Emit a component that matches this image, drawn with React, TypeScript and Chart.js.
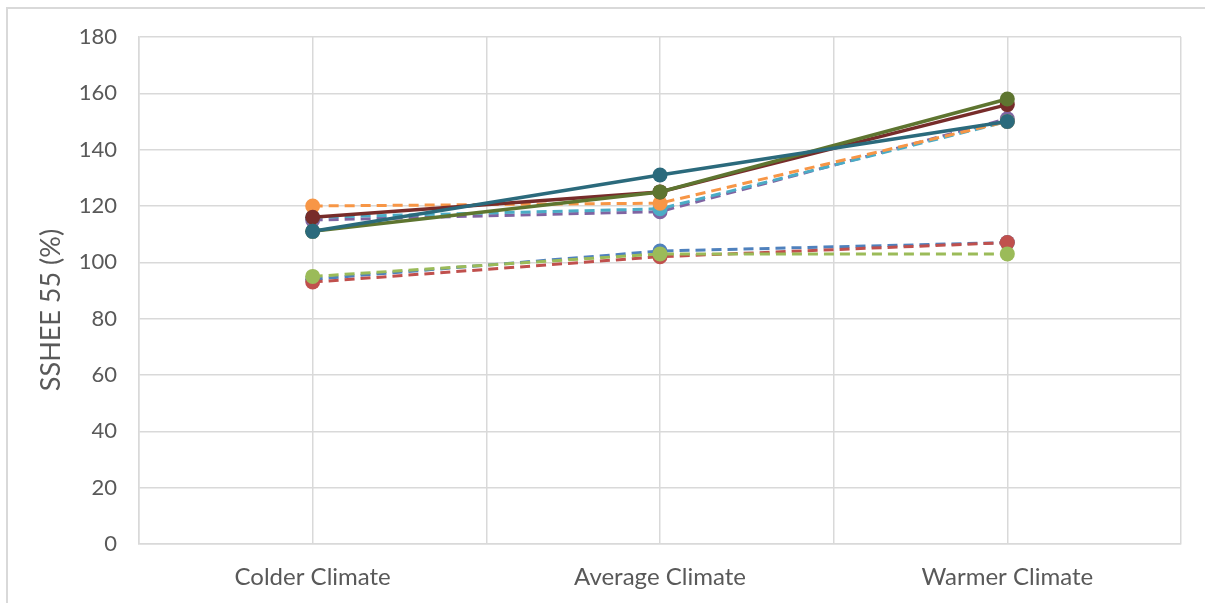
import React, { useEffect, useRef } from "react";
import { Chart, registerables } from "chart.js";

Chart.register(...registerables);

const categories = ["Colder Climate", "Average Climate", "Warmer Climate"];
const yTicks = [0, 20, 40, 60, 80, 100, 120, 140, 160, 180];
const yTitle = "SSHEE 55 (%)";

// dashed series
const blueDashed = [94, 104, 107];
const redDashed = [93, 102, 107];
const greenDashed = [95, 103, 103];
const purpleDashed = [115, 118, 151];
const lightBlueDashed = [116, 119, 150];
const orangeDashed = [120, 121, 150];
// solid series
const darkRedSolid = [116, 125, 156];
const oliveSolid = [111, 125, 158];
const tealSolid = [111, 131, 150];

const FONT = "Lato";
const TEXT = "#595959";
const GRID = "#d9d9d9";

function toPoints(arr: number[]) {
  return arr.map((v, i) => ({ x: i, y: v }));
}

function ds(label: string, values: number[], color: string, dashed: boolean) {
  return {
    label,
    data: toPoints(values),
    borderColor: color,
    backgroundColor: color,
    pointBackgroundColor: color,
    pointBorderColor: color,
    pointRadius: 7.5,
    pointBorderWidth: 0,
    borderWidth: dashed ? 3 : 3.5,
    borderDash: dashed ? [10, 6] : [],
    tension: 0,
    fill: false,
  };
}

const yTitlePlugin = {
  id: "yTitlePlugin",
  afterDraw(chart: any) {
    const ctx = chart.ctx;
    ctx.save();
    ctx.translate(51, 310);
    ctx.rotate(-Math.PI / 2);
    ctx.fillStyle = TEXT;
    ctx.font = `27px ${FONT}`;
    ctx.textAlign = "center";
    ctx.textBaseline = "middle";
    ctx.fillText(yTitle, 0, 0);
    ctx.restore();
  },
};

export default function App() {
  const ref = useRef<HTMLCanvasElement | null>(null);

  useEffect(() => {
    if (!ref.current) return;
    // first dataset is drawn on top
    const datasets = [
      ds("Teal", tealSolid, "#2B6A7C", false),
      ds("Olive", oliveSolid, "#5E7530", false),
      ds("Dark red", darkRedSolid, "#772C2A", false),
      ds("Orange", orangeDashed, "#F79646", true),
      ds("Light blue", lightBlueDashed, "#4BACC6", true),
      ds("Purple", purpleDashed, "#8064A2", true),
      ds("Green", greenDashed, "#9BBB59", true),
      ds("Red", redDashed, "#C0504D", true),
      ds("Blue", blueDashed, "#4F81BD", true),
    ];
    const chart = new Chart(ref.current, {
      type: "line",
      data: { datasets },
      plugins: [yTitlePlugin],
      options: {
        animation: false,
        responsive: false,
        layout: { padding: { left: 0, top: 37, right: 24, bottom: 0 } },
        plugins: { legend: { display: false }, tooltip: { enabled: false } },
        scales: {
          x: {
            type: "linear",
            min: -0.5,
            max: 2.5,
            afterFit: (s: any) => {
              s.height = 59;
            },
            afterBuildTicks: (s: any) => {
              const t = [];
              for (let v = -0.5; v <= 2.5001; v += 0.5) t.push({ value: Math.round(v * 10) / 10 });
              s.ticks = t;
            },
            ticks: {
              autoSkip: false,
              maxRotation: 0,
              padding: 19,
              color: TEXT,
              font: { family: FONT, size: 24 },
              callback: (v: any) => (Number.isInteger(v) ? categories[v] : ""),
            },
            grid: { color: GRID, lineWidth: 1.5, drawTicks: false },
            border: { color: GRID, width: 1.5 },
          },
          y: {
            min: 0,
            max: 180,
            afterFit: (s: any) => {
              s.width = 139;
            },
            afterBuildTicks: (s: any) => {
              s.ticks = yTicks.map((v) => ({ value: v }));
            },
            ticks: {
              padding: 22,
              color: TEXT,
              font: { family: FONT, size: 22 },
            },
            grid: { color: GRID, lineWidth: 1.5, drawTicks: false },
            border: { color: GRID, width: 1.5 },
          },
        },
      },
    });
    return () => chart.destroy();
  }, []);

  return (
    <div
      style={{
        position: "fixed",
        left: 0,
        top: 0,
        width: 1205,
        height: 603,
        overflow: "hidden",
        background: "#ffffff",
      }}
    >
      <div
        style={{
          position: "absolute",
          left: 6,
          top: 7,
          width: 1400,
          height: 800,
          borderLeft: "2px solid #d9d9d9",
          borderTop: "2px solid #d9d9d9",
        }}
      />
      <canvas
        ref={ref}
        width={1205}
        height={603}
        style={{ position: "absolute", left: 0, top: 0, width: 1205, height: 603 }}
      />
    </div>
  );
}
